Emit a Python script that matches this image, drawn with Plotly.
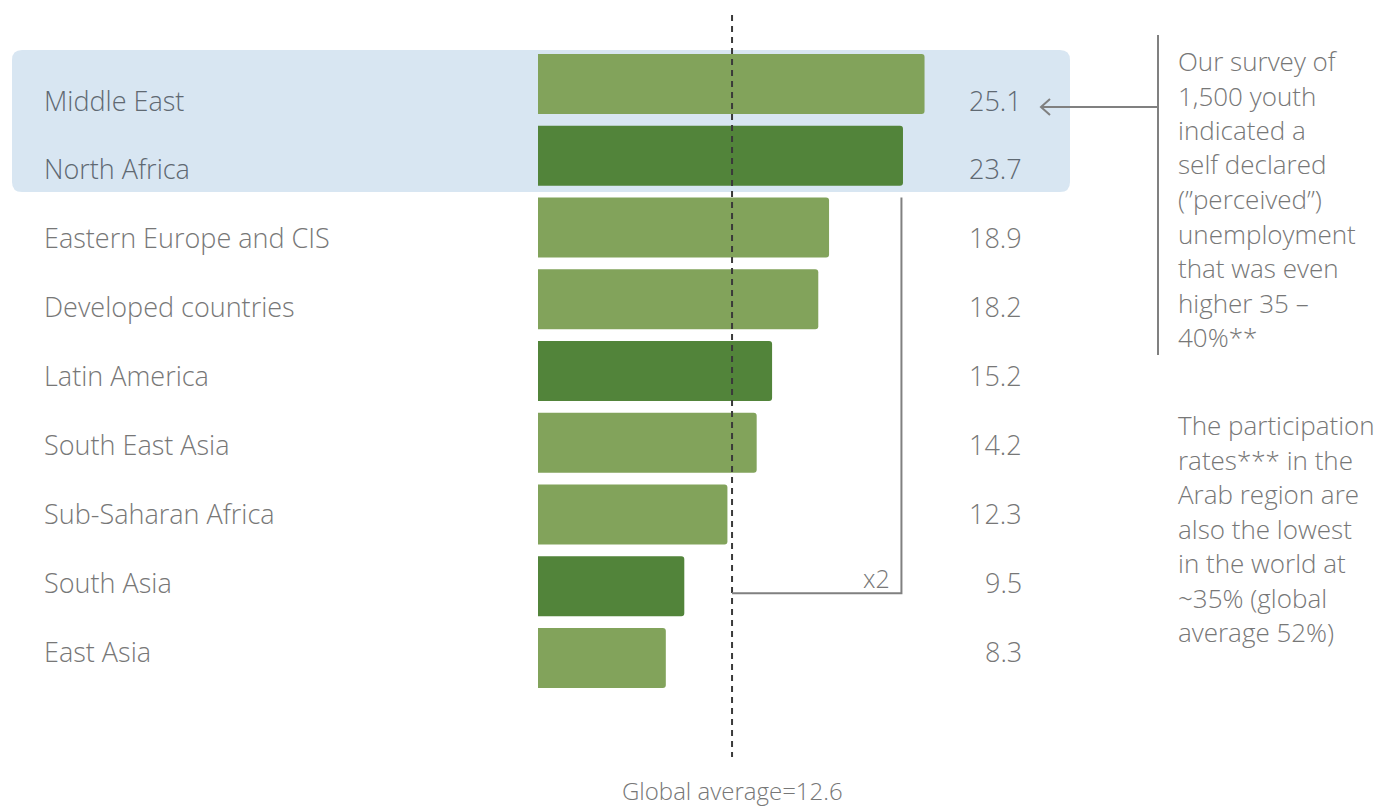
import plotly.graph_objects as go

# Youth unemployment rate by region (%)
regions = [
    "Middle East", "North Africa", "Eastern Europe and CIS", "Developed countries",
    "Latin America", "South East Asia", "Sub-Saharan Africa", "South Asia", "East Asia",
]
unemployment = [25.1, 23.7, 18.9, 18.2, 15.2, 14.2, 12.3, 9.5, 8.3]
global_average = 12.6
highlighted = ["Middle East", "North Africa"]
dark_regions = ["North Africa", "Latin America", "South Asia"]

survey_note = [
    "Our survey of", "1,500 youth", "indicated a", "self declared",
    "(\u201dperceived\u201d)", "unemployment", "that was even",
    "higher 35 \u2013", "40%**",
]
participation_note = [
    "The participation", "rates*** in the", "Arab region are",
    "also the lowest", "in the world at", "~35% (global", "average 52%)",
]

W, H = 1391, 810
LIGHT_GREEN = "#82a35b"
DARK_GREEN = "#52843a"
BOX_BLUE = "#d8e6f2"
TEXT_GREY = "#777777"
TEXT_SLATE = "#5f6972"
LINE_GREY = "#808080"
FONT = "Open Sans"

# pixel helpers for decorations laid out in paper space
def px(x):
    return x / W

def py(y):
    return 1 - y / H

SCALE = 15.4          # pixels per percentage point
BAR_BASE_PX = 538     # where the bars start
ROW_PX = 71.75        # row pitch
FIRST_ROW_PX = 84     # centre of first row

x_range = [-BAR_BASE_PX / SCALE, (W - BAR_BASE_PX) / SCALE]
y_range = [(H - FIRST_ROW_PX) / ROW_PX, -FIRST_ROW_PX / ROW_PX]

colors = [DARK_GREEN if r in dark_regions else LIGHT_GREEN for r in regions]

fig = go.Figure()
fig.add_trace(go.Bar(
    x=unemployment, y=regions, orientation="h",
    marker=dict(color=colors, line=dict(width=0)),
    width=60 / ROW_PX, hoverinfo="x+y", showlegend=False,
))

shapes = []
annotations = []

# highlight panel behind the Arab region rows
x0, x1, y0, y1 = px(12), px(1070), py(50), py(192)
rx, ry = 10 / W, 10 / H
panel = (
    f"M {x0+rx},{y0} L {x1-rx},{y0} Q {x1},{y0} {x1},{y0-ry} "
    f"L {x1},{y1+ry} Q {x1},{y1} {x1-rx},{y1} L {x0+rx},{y1} "
    f"Q {x0},{y1} {x0},{y1+ry} L {x0},{y0-ry} Q {x0},{y0} {x0+rx},{y0} Z"
)
shapes.append(dict(type="path", path=panel, xref="paper", yref="paper",
                   fillcolor=BOX_BLUE, line=dict(width=0), layer="below"))

# global average reference line
shapes.append(dict(type="line", xref="x", yref="paper",
                   x0=global_average, x1=global_average, y0=py(15), y1=py(757),
                   line=dict(color="#3a3a3a", width=2, dash="6px,5px")))

# "x2" bracket from Eastern Europe down to South Asia
i_top = regions.index("Eastern Europe and CIS")
i_bot = regions.index("South Asia")
bracket_x = unemployment[regions.index("North Africa")] - 0.1
top_y = FIRST_ROW_PX + ROW_PX * i_top - 30
bot_y = FIRST_ROW_PX + ROW_PX * i_bot + 7
shapes.append(dict(type="path", xref="x", yref="paper",
                   path=f"M {global_average},{py(bot_y)} L {bracket_x},{py(bot_y)} "
                        f"L {bracket_x},{py(top_y)}",
                   line=dict(color=LINE_GREY, width=2)))
annotations.append(dict(x=bracket_x - 0.6, y=py(bot_y - 15), xref="x", yref="paper",
                        text="x2", showarrow=False, xanchor="right", yanchor="middle",
                        font=dict(size=25, color=TEXT_GREY)))

# side note rule and arrow pointing at the Middle East value
shapes.append(dict(type="line", xref="paper", yref="paper",
                   x0=px(1158), x1=px(1158), y0=py(35), y1=py(355),
                   line=dict(color=LINE_GREY, width=2)))
shapes.append(dict(type="line", xref="paper", yref="paper",
                   x0=px(1158), x1=px(1041), y0=py(107), y1=py(107),
                   line=dict(color=LINE_GREY, width=2)))
shapes.append(dict(type="path", xref="paper", yref="paper",
                   path=f"M {px(1050)},{py(99)} L {px(1041)},{py(107)} L {px(1050)},{py(115)}",
                   line=dict(color=LINE_GREY, width=2)))

# region names and values
for i, (name, val) in enumerate(zip(regions, unemployment)):
    label_y = FIRST_ROW_PX + 16 + 68.9 * i
    col = TEXT_SLATE if name in highlighted else TEXT_GREY
    annotations.append(dict(x=px(42), y=py(label_y), xref="paper", yref="paper",
                            text=name, showarrow=False, xanchor="left", yanchor="middle",
                            font=dict(size=27, color=col)))
    annotations.append(dict(x=px(1024), y=py(label_y), xref="paper", yref="paper",
                            text=f"{val:.1f}", showarrow=False, xanchor="right",
                            yanchor="middle", font=dict(size=27, color=col)))

annotations.append(dict(x=global_average, y=py(790), xref="x", yref="paper",
                        text=f"Global average={global_average}", showarrow=False,
                        xanchor="center", yanchor="middle",
                        font=dict(size=24, color=TEXT_GREY)))

# side notes, one line at a time
for k, line in enumerate(survey_note):
    annotations.append(dict(x=px(1176), y=py(61 + 34.5 * k), xref="paper", yref="paper",
                            text=line, showarrow=False, xanchor="left", yanchor="middle",
                            font=dict(size=26, color=TEXT_GREY)))
for k, line in enumerate(participation_note):
    annotations.append(dict(x=px(1176), y=py(425 + 34.5 * k), xref="paper", yref="paper",
                            text=line, showarrow=False, xanchor="left", yanchor="middle",
                            font=dict(size=26, color=TEXT_GREY)))

fig.update_layout(
    width=W, height=H,
    margin=dict(l=0, r=0, t=0, b=0),
    paper_bgcolor="white", plot_bgcolor="white",
    font=dict(family=FONT, weight=300),
    barcornerradius=3,
    xaxis=dict(range=x_range, visible=False, fixedrange=True),
    yaxis=dict(range=y_range, visible=False, categoryorder="array",
               categoryarray=regions, fixedrange=True),
    shapes=shapes, annotations=annotations,
)

fig.write_html("out.html")
